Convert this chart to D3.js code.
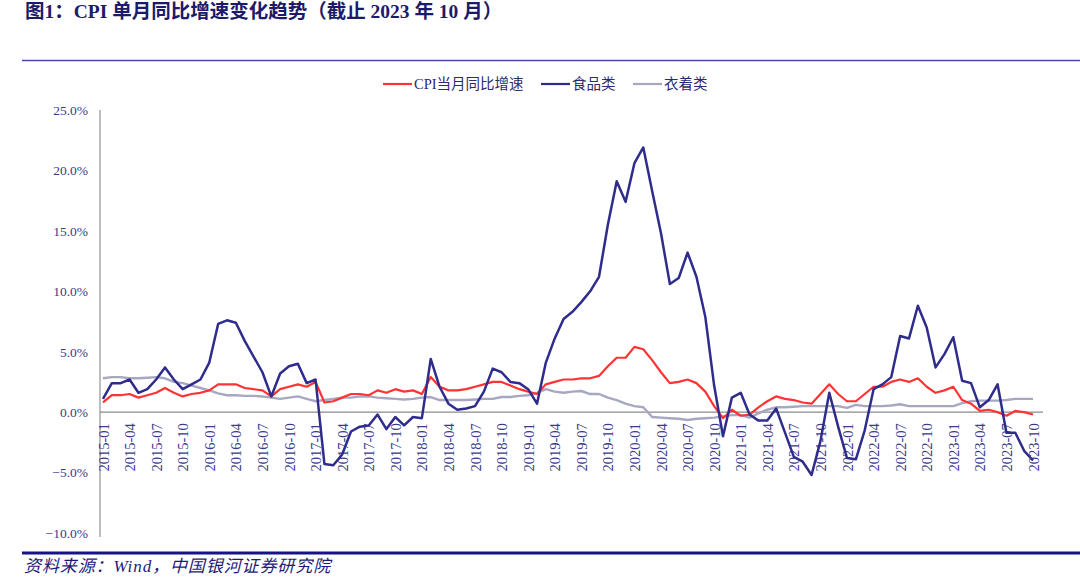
<!DOCTYPE html>
<html>
<head>
<meta charset="utf-8">
<script src="https://cdn.jsdelivr.net/npm/d3@7"></script>
<style>
  html, body { margin: 0; padding: 0; background: #fff; }
  svg { display: block; }
</style>
</head>
<body>
<svg id="chart" width="1080" height="586"></svg>
<script>
// ---------- DATA ----------
const startMonth = "2015-01";
const endMonth = "2023-10";
const seriesNames = ["CPI当月同比增速", "食品类", "衣着类"];
const cpi = [
  0.8, 1.4, 1.4, 1.5, 1.2, 1.4, 1.6, 2.0, 1.6, 1.3, 1.5, 1.6,
  1.8, 2.3, 2.3, 2.3, 2.0, 1.9, 1.8, 1.3, 1.9, 2.1, 2.3, 2.1,
  2.5, 0.8, 0.9, 1.2, 1.5, 1.5, 1.4, 1.8, 1.6, 1.9, 1.7, 1.8,
  1.5, 2.9, 2.1, 1.8, 1.8, 1.9, 2.1, 2.3, 2.5, 2.5, 2.2, 1.9,
  1.7, 1.5, 2.3, 2.5, 2.7, 2.7, 2.8, 2.8, 3.0, 3.8, 4.5, 4.5,
  5.4, 5.2, 4.3, 3.3, 2.4, 2.5, 2.7, 2.4, 1.7, 0.5, -0.5, 0.2,
  -0.3, -0.2, 0.4, 0.9, 1.3, 1.1, 1.0, 0.8, 0.7, 1.5, 2.3, 1.5,
  0.9, 0.9, 1.5, 2.1, 2.1, 2.5, 2.7, 2.5, 2.8, 2.1, 1.6, 1.8,
  2.1, 1.0, 0.7, 0.1, 0.2, 0.0, -0.3, 0.1, 0.0, -0.2
];
const food = [
  1.1, 2.4, 2.4, 2.7, 1.6, 1.9, 2.7, 3.7, 2.7, 1.9, 2.3, 2.7,
  4.1, 7.3, 7.6, 7.4, 5.9, 4.6, 3.3, 1.3, 3.2, 3.8, 4.0, 2.4,
  2.7, -4.3, -4.4, -3.5, -1.6, -1.2, -1.1, -0.2, -1.4, -0.4, -1.1, -0.4,
  -0.5, 4.4, 2.1, 0.7, 0.2, 0.3, 0.5, 1.7, 3.6, 3.3, 2.5, 2.4,
  1.9, 0.7, 4.1, 6.1, 7.7, 8.3, 9.1, 10.0, 11.2, 15.5, 19.1, 17.4,
  20.6, 21.9, 18.3, 14.8, 10.6, 11.1, 13.2, 11.2, 7.9, 2.2, -2.0, 1.2,
  1.6, -0.2, -0.7, -0.7, 0.3, -1.7, -3.7, -4.1, -5.2, -2.4, 1.6, -1.2,
  -3.8, -3.9, -1.5, 1.9, 2.3, 2.9, 6.3, 6.1, 8.8, 7.0, 3.7, 4.8,
  6.2, 2.6, 2.4, 0.4, 1.0, 2.3, -1.7, -1.7, -3.2, -4.0
];
const clothing = [
  2.8, 2.9, 2.9, 2.8, 2.8, 2.85, 2.9, 2.8, 2.5, 2.4, 2.2, 2.0,
  1.8, 1.55, 1.4, 1.4, 1.35, 1.35, 1.3, 1.2, 1.1, 1.2, 1.3, 1.1,
  0.9, 1.0, 1.1, 1.2, 1.2, 1.3, 1.3, 1.2, 1.15, 1.1, 1.05, 1.1,
  1.2, 1.25, 1.0, 1.0, 1.0, 1.0, 1.05, 1.1, 1.1, 1.25, 1.25, 1.35,
  1.4, 1.6, 1.9, 1.7, 1.6, 1.7, 1.75, 1.5, 1.5, 1.2, 1.0, 0.7,
  0.5, 0.4, -0.4, -0.45, -0.5, -0.55, -0.65, -0.55, -0.5, -0.45, -0.35, -0.25,
  -0.25, -0.45, -0.1, 0.2, 0.4, 0.4, 0.45, 0.5, 0.5, 0.5, 0.5, 0.5,
  0.35, 0.6, 0.5, 0.5, 0.5, 0.55, 0.65, 0.5, 0.5, 0.5, 0.5, 0.5,
  0.5, 0.75, 0.9, 0.95, 0.95, 0.95, 1.0, 1.1, 1.1, 1.1
];
const yTicks = [-10, -5, 0, 5, 10, 15, 20, 25];
const xTickStep = 3;

// ---------- SETUP ----------
const parse = d3.timeParse("%Y-%m");
const fmt = d3.timeFormat("%Y-%m");
const months = d3.timeMonth.range(parse(startMonth), d3.timeMonth.offset(parse(endMonth), 1)).map(fmt);

const svg = d3.select("#chart");
const serif = "'Liberation Serif', 'Times New Roman', 'Noto Sans CJK SC', serif";
const cjk = "'Liberation Serif', 'Noto Sans CJK SC', serif";

svg.append("rect").attr("width", 1080).attr("height", 586).attr("fill", "#fff");

// Title
svg.append("text")
  .attr("x", 25).attr("y", 18)
  .attr("font-family", cjk).attr("font-weight", "bold").attr("font-size", 19.5)
  .attr("fill", "#1c1a6a")
  .text("图1：CPI 单月同比增速变化趋势（截止 2023 年 10 月）");

// Top rule
svg.append("line").attr("x1", 22).attr("x2", 1080).attr("y1", 60.5).attr("y2", 60.5)
  .attr("stroke", "#4b47a8").attr("stroke-width", 1.6);

// Bottom rule
svg.append("line").attr("x1", 22).attr("x2", 1080).attr("y1", 553).attr("y2", 553)
  .attr("stroke", "#17128a").attr("stroke-width", 3);

// Source
svg.append("text")
  .attr("x", 24).attr("y", 572)
  .attr("font-family", cjk).attr("font-style", "italic").attr("font-size", 17)
  .attr("letter-spacing", 0.9)
  .attr("fill", "#1c1a7a")
  .text("资料来源：Wind，中国银河证券研究院");

// Scales
const x = d3.scalePoint().domain(months).range([103, 1033]);
const y = d3.scaleLinear().domain([-10, 25]).range([533, 110]);

// Y axis
const yAxis = d3.axisLeft(y).tickValues(yTicks).tickSize(0).tickPadding(12)
  .tickFormat(d => d3.format(".1f")(d) + "%");
const gy = svg.append("g").attr("transform", "translate(100,0)").call(yAxis);
gy.select(".domain").remove();
gy.selectAll("text").attr("font-family", serif).attr("font-size", 13.5).attr("fill", "#3a3a8a")
  .text(d => (d < 0 ? "−" + d3.format(".1f")(-d) : d3.format(".1f")(d)) + "%");
svg.append("line").attr("x1", 100).attr("x2", 100).attr("y1", 110).attr("y2", 537)
  .attr("stroke", "#a8a8a8").attr("stroke-width", 1.5);

// Zero line
svg.append("line").attr("x1", 100).attr("x2", 1043).attr("y1", y(0)).attr("y2", y(0))
  .attr("stroke", "#8a8a8a").attr("stroke-width", 1.2);

// X axis labels
const xTickVals = months.filter((m, i) => i % xTickStep === 0);
const xAxis = d3.axisBottom(x).tickValues(xTickVals).tickSize(0).tickPadding(0);
const gx = svg.append("g").attr("transform", `translate(0,${y(0)})`).call(xAxis);
gx.select(".domain").remove();
gx.selectAll("text")
  .attr("font-family", serif).attr("font-size", 14.5).attr("fill", "#3a3a8a")
  .attr("text-anchor", "end")
  .attr("transform", "rotate(-90)")
  .attr("x", -11).attr("y", 0).attr("dy", "0.35em");

// Lines
const series = [
  { name: seriesNames[2], values: clothing, color: "#a7a7c2", width: 2.4 },
  { name: seriesNames[0], values: cpi, color: "#ff3333", width: 2.2 },
  { name: seriesNames[1], values: food, color: "#2f2c8c", width: 2.5 }
];
const line = d3.line().x((d, i) => x(months[i])).y(d => y(d));
series.forEach(s => {
  svg.append("path").datum(s.values)
    .attr("fill", "none").attr("stroke", s.color).attr("stroke-width", s.width)
    .attr("stroke-linejoin", "round")
    .attr("d", line);
});

// Legend
const legendItems = [
  { name: seriesNames[0], color: "#ff3333", x: 383 },
  { name: seriesNames[1], color: "#2f2c8c", x: 541 },
  { name: seriesNames[2], color: "#a7a7c2", x: 633 }
];
legendItems.forEach(it => {
  svg.append("line").attr("x1", it.x).attr("x2", it.x + 29).attr("y1", 84).attr("y2", 84)
    .attr("stroke", it.color).attr("stroke-width", 2.2);
  svg.append("text").attr("x", it.x + 31).attr("y", 89)
    .attr("font-family", cjk).attr("font-size", 14.5).attr("fill", "#2a2a6e")
    .text(it.name);
});
</script>
</body>
</html>
